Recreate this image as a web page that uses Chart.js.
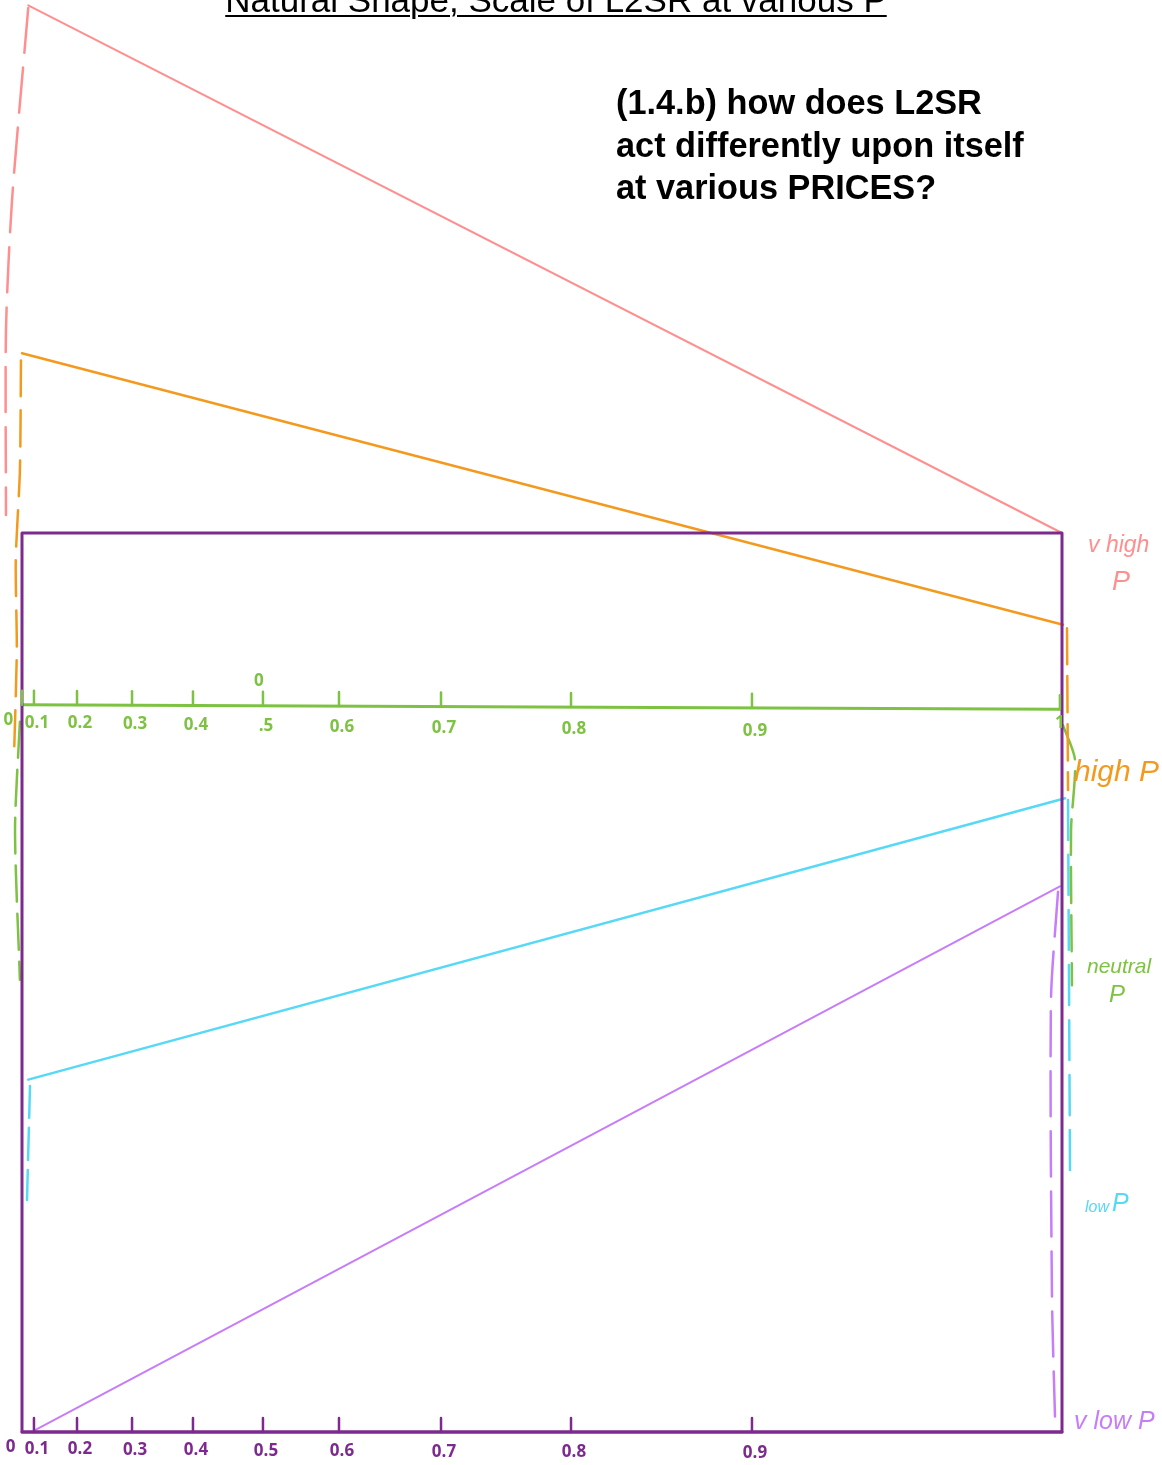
<!DOCTYPE html>
<html>
<head>
<meta charset="utf-8">
<script src="https://cdn.jsdelivr.net/npm/chart.js@4.4.1/dist/chart.umd.min.js"></script>
<style>
  html, body { margin: 0; padding: 0; background: #ffffff; }
  #wrap { position: relative; width: 1162px; height: 1465px; overflow: hidden; }
  #title { position: absolute; left: 0; width: 1112px; text-align: center; top: -18px;
    font: 35px/35px "Liberation Sans", Arial, sans-serif; color: #000; text-decoration: underline;
    text-decoration-thickness: 2px; text-underline-offset: 3px; white-space: nowrap; }
  #question { position: absolute; left: 616px; top: 81px; font: bold 34.3px/42.5px "Liberation Sans", Arial, sans-serif;
    color: #000; white-space: nowrap; }
  canvas { position: absolute; left: 0; top: 0; }
</style>
</head>
<body>
<div id="wrap">
  <canvas id="c" width="1162" height="1465"></canvas>
  <div id="title">Natural Shape, Scale of L2SR at various P</div>
  <div id="question">(1.4.b) how does L2SR<br>act differently upon itself<br>at various PRICES?</div>
</div>
<script>
// ---------- data (x: position along the drawn scale 0..1, y: box height units, box bottom = 0, box top = 1) ----------
const veryHighPX = [0.006, 1.0];
const veryHighPY = [1.587, 1.0];
const highPX = [0.0, 1.001];
const highPY = [1.200, 0.898];
const neutralAxisX = [0.0, 0.998];
const neutralAxisY = [0.809, 0.804];
const lowPX = [0.006, 1.003];
const lowPY = [0.392, 0.705];
const veryLowPX = [0.0125, 0.998];
const veryLowPY = [0.002, 0.607];

const boxX = [0, 1, 1, 0, 0];
const boxY = [1, 1, 0, 0, 1];
const bottomAxisY = [0, 0];
const bottomAxisX = [0, 1];

// dashed guides
const guideVeryHighLeftX = [0.006, -0.0096, -0.0154, -0.0154];
const guideVeryHighLeftY = [1.584, 1.370, 1.226, 1.020];
const guideHighLeftX = [-0.001, -0.002, -0.006, -0.005, -0.0077];
const guideHighLeftY = [1.192, 1.070, 0.970, 0.870, 0.751];
const guideNeutralLeftX = [-0.002, -0.0067, -0.002];
const guideNeutralLeftY = [0.790, 0.670, 0.503];
const guideLowLeftX = [0.0077, 0.0048];
const guideLowLeftY = [0.385, 0.258];
const guideHighRightX = [1.0048, 1.0058];
const guideHighRightY = [0.894, 0.714];
const guideNeutralRightX = [1.001, 1.0125, 1.0087, 1.0096];
const guideNeutralRightY = [0.786, 0.748, 0.670, 0.497];
const guideLowRightX = [1.0058, 1.0077];
const guideLowRightY = [0.703, 0.291];
const guideVeryLowRightX = [0.9962, 0.9894, 0.9904, 0.9933];
const guideVeryLowRightY = [0.601, 0.481, 0.147, 0.016];

// tick labels and where they sit on the hand-drawn (non-uniform) scale
const tickAt = [0.0115, 0.0529, 0.1058, 0.1644, 0.2317, 0.3048, 0.4029, 0.5279, 0.7019];
const bottomTickLabels = ['0.1', '0.2', '0.3', '0.4', '0.5', '0.6', '0.7', '0.8', '0.9'];
const neutralTickLabels = ['0.1', '0.2', '0.3', '0.4', '.5', '0.6', '0.7', '0.8', '0.9'];

// ---------- colours ----------
const C_PINK = '#FF8F8F', C_ORANGE = '#F39A1E', C_GREEN = '#7DC242', C_CYAN = '#56D9F7',
      C_VIOLET = '#C77DFA', C_PURPLE = '#7D2A8E';

const pts = (xs, ys) => xs.map((v, i) => ({ x: v, y: ys[i] }));
const solid = (label, xs, ys, color, w) => ({ label, data: pts(xs, ys), borderColor: color, borderWidth: w,
  showLine: true, pointRadius: 0, fill: false, borderCapStyle: 'round', borderJoinStyle: 'round', tension: 0 });
const dashed = (label, xs, ys, color, dash) => ({ label, data: pts(xs, ys), borderColor: color, borderWidth: 2.5,
  showLine: true, pointRadius: 0, fill: false, borderDash: dash, borderCapStyle: 'round', tension: 0.25 });

const yAtNeutral = t => neutralAxisY[0] + (neutralAxisY[1] - neutralAxisY[0]) * (t - neutralAxisX[0]) / (neutralAxisX[1] - neutralAxisX[0]);

const sketchPlugin = {
  id: 'sketch',
  afterDatasetsDraw(chart) {
    const { ctx, scales: { x, y } } = chart;
    ctx.save();
    ctx.lineCap = 'round';
    // tick marks (drawn upward from each axis)
    const drawTicks = (color, yFn, extra) => {
      ctx.strokeStyle = color; ctx.lineWidth = 2.5;
      tickAt.concat(extra).forEach(t => {
        const px = x.getPixelForValue(t), py = y.getPixelForValue(yFn(t));
        ctx.beginPath(); ctx.moveTo(px, py); ctx.lineTo(px, py - 14); ctx.stroke();
      });
    };
    drawTicks(C_GREEN, yAtNeutral, [0, 0.998]);
    drawTicks(C_PURPLE, () => 0, []);
    // tick labels
    ctx.textAlign = 'center'; ctx.textBaseline = 'middle';
    ctx.font = 'bold 17px "Open Sans", sans-serif';
    ctx.fillStyle = C_GREEN;
    tickAt.forEach((t, i) => {
      ctx.fillText(neutralTickLabels[i], x.getPixelForValue(t) + 3, y.getPixelForValue(yAtNeutral(t)) + 18 + i * 0.6);
    });
    ctx.fillText('0', x.getPixelForValue(-0.013), y.getPixelForValue(yAtNeutral(0)) + 15);
    ctx.fillText('1', x.getPixelForValue(0.998), y.getPixelForValue(yAtNeutral(1)) + 14);
    ctx.fillText('0', x.getPixelForValue(0.2317) - 4, y.getPixelForValue(yAtNeutral(0.23)) - 25);
    ctx.fillStyle = C_PURPLE;
    tickAt.forEach((t, i) => {
      ctx.fillText(bottomTickLabels[i], x.getPixelForValue(t) + 3, y.getPixelForValue(0) + 17 + i * 0.5);
    });
    ctx.fillText('0', x.getPixelForValue(-0.011), y.getPixelForValue(0) + 15);
    // series labels on the right
    ctx.textAlign = 'left'; ctx.textBaseline = 'alphabetic';
    ctx.fillStyle = C_PINK; ctx.font = 'italic 23px "Liberation Sans", sans-serif';
    ctx.fillText('v high', 1088, 552);
    ctx.font = 'italic 27px "Liberation Sans", sans-serif';
    ctx.fillText('P', 1112, 590);
    ctx.fillStyle = C_ORANGE; ctx.font = 'italic 30px "Liberation Sans", sans-serif';
    ctx.fillText('high P', 1074, 781);
    ctx.fillStyle = C_GREEN; ctx.font = 'italic 21px "Liberation Sans", sans-serif';
    ctx.fillText('neutral', 1087, 973);
    ctx.font = 'italic 24px "Liberation Sans", sans-serif';
    ctx.fillText('P', 1109, 1002);
    ctx.fillStyle = C_CYAN; ctx.font = 'italic 16px "Liberation Sans", sans-serif';
    ctx.fillText('low', 1085, 1212);
    ctx.font = 'italic 25px "Liberation Sans", sans-serif';
    ctx.fillText('P', 1112, 1211);
    ctx.fillStyle = C_VIOLET; ctx.font = 'italic 25px "Liberation Sans", sans-serif';
    ctx.fillText('v low P', 1074, 1429);
    ctx.restore();
  }
};

new Chart(document.getElementById('c'), {
  type: 'scatter',
  data: {
    datasets: [
      solid('box', boxX, boxY, C_PURPLE, 3),
      solid('bottom axis', bottomAxisX, bottomAxisY, C_PURPLE, 3),
      solid('neutral axis', neutralAxisX, neutralAxisY, C_GREEN, 3),
      solid('v high P', veryHighPX, veryHighPY, C_PINK, 2),
      solid('high P', highPX, highPY, C_ORANGE, 2.5),
      solid('low P', lowPX, lowPY, C_CYAN, 2.5),
      solid('v low P', veryLowPX, veryLowPY, C_VIOLET, 2),
      dashed('v high P guide L', guideVeryHighLeftX, guideVeryHighLeftY, C_PINK, [45, 15]),
      dashed('high P guide L', guideHighLeftX, guideHighLeftY, C_ORANGE, [36, 14]),
      dashed('neutral guide L', guideNeutralLeftX, guideNeutralLeftY, C_GREEN, [36, 12]),
      dashed('low P guide L', guideLowLeftX, guideLowLeftY, C_CYAN, [32, 10]),
      dashed('high P guide R', guideHighRightX, guideHighRightY, C_ORANGE, [36, 12]),
      dashed('neutral guide R', guideNeutralRightX, guideNeutralRightY, C_GREEN, [36, 12]),
      dashed('low P guide R', guideLowRightX, guideLowRightY, C_CYAN, [40, 15]),
      dashed('v low P guide R', guideVeryLowRightX, guideVeryLowRightY, C_VIOLET, [45, 15])
    ]
  },
  options: {
    responsive: false,
    animation: false,
    devicePixelRatio: 1,
    layout: { padding: 0 },
    plugins: { legend: { display: false }, tooltip: { enabled: false }, title: { display: false } },
    scales: {
      x: { type: 'linear', display: false, min: -22 / 1040, max: 1140 / 1040 },
      y: { type: 'linear', display: false, min: -33 / 899, max: 1432 / 899 }
    }
  },
  plugins: [sketchPlugin]
});
</script>
</body>
</html>
